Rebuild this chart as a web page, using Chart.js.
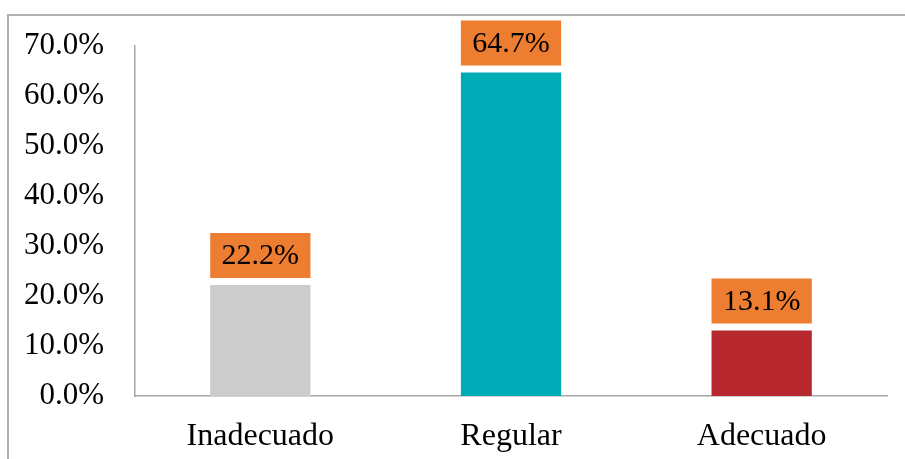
<!DOCTYPE html>
<html>
<head>
<meta charset="utf-8">
<script src="https://cdn.jsdelivr.net/npm/chart.js@4"></script>
<style>
  html, body { margin: 0; padding: 0; background: #ffffff; }
  #wrap { width: 905px; height: 459px; position: relative; }
</style>
</head>
<body>
<div id="wrap"><canvas id="chart" width="905" height="459"></canvas></div>
<script>
// datos del gráfico
const categorias = ['Inadecuado', 'Regular', 'Adecuado'];
const porcentajes = [22.2, 64.7, 13.1];
const coloresBarras = ['#cccccc', '#00abb8', '#b7282e'];
const marcasY = [0, 10, 20, 30, 40, 50, 60, 70];

const fuente = "'Liberation Serif', 'Times New Roman', serif";

// marco gris arriba y a la izquierda
const marco = {
    id: 'marco',
    beforeDraw: function(chart) {
        const ctx = chart.ctx;
        ctx.save();
        ctx.fillStyle = '#ffffff';
        ctx.fillRect(0, 0, chart.width, chart.height);
        ctx.strokeStyle = '#b0b0b0';
        ctx.lineWidth = 2;
        ctx.beginPath();
        ctx.moveTo(chart.width, 15);
        ctx.lineTo(8, 15);
        ctx.lineTo(8, chart.height);
        ctx.stroke();
        ctx.restore();
    }
};

// etiquetas naranjas sobre cada barra
const etiquetas = {
    id: 'etiquetas',
    afterDatasetsDraw: function(chart) {
        const ctx = chart.ctx;
        const meta = chart.getDatasetMeta(0);
        ctx.save();
        meta.data.forEach(function(barra, i) {
            const ancho = barra.width;
            const alto = 45;
            const abajo = barra.y - 7;
            ctx.fillStyle = '#ed7d31';
            ctx.fillRect(barra.x - ancho / 2, abajo - alto, ancho, alto);
            ctx.fillStyle = '#000000';
            ctx.font = '30px ' + fuente;
            ctx.textAlign = 'center';
            ctx.textBaseline = 'middle';
            ctx.fillText(porcentajes[i].toFixed(1) + '%', barra.x, abajo - alto / 2 + 1);
        });
        ctx.restore();
    }
};

new Chart(document.getElementById('chart'), {
    type: 'bar',
    data: {
        labels: categorias,
        datasets: [{
            data: porcentajes,
            backgroundColor: coloresBarras,
            borderWidth: 0,
            barPercentage: 0.4,
            categoryPercentage: 1
        }]
    },
    options: {
        responsive: false,
        animation: false,
        layout: { padding: { top: 46, left: 0, right: 18, bottom: 0 } },
        plugins: {
            legend: { display: false },
            tooltip: { enabled: false }
        },
        scales: {
            x: {
                grid: { display: false, drawTicks: false },
                border: { color: '#a6a6a6', width: 1.5 },
                ticks: { color: '#000000', font: { family: fuente, size: 32 }, padding: 21 },
                afterFit: function(scale) { scale.height = 63; }
            },
            y: {
                min: 0,
                max: 70,
                grid: { display: false, drawTicks: false },
                border: { color: '#a6a6a6', width: 1.5 },
                afterBuildTicks: function(scale) {
                    scale.ticks = marcasY.map(function(v) { return { value: v }; });
                },
                ticks: {
                    color: '#000000',
                    font: { family: fuente, size: 31 },
                    padding: 31,
                    callback: function(v) { return v.toFixed(1) + '%'; }
                },
                afterFit: function(scale) {
                    scale.width = 135;
                    // el padding de las marcas no debe empujar el área hacia abajo
                    scale.paddingTop = 0;
                    scale.paddingBottom = 0;
                }
            }
        }
    },
    plugins: [marco, etiquetas]
});
</script>
</body>
</html>
